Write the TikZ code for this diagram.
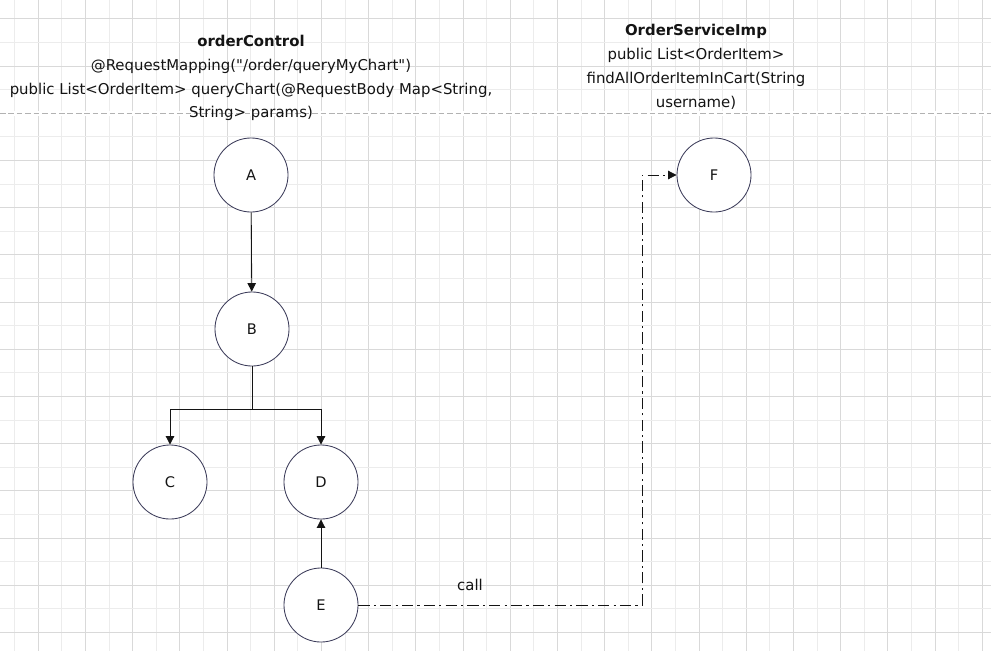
\documentclass[tikz,border=0pt]{standalone}
\usepackage{fontspec}
\newfontfamily\diagfont{DejaVu Sans}
\usetikzlibrary{arrows.meta, positioning}

\definecolor{gridlo}{HTML}{ECECEC}
\definecolor{gridhi}{HTML}{D9D9D9}
\definecolor{ringcol}{HTML}{3C3C5A}
\definecolor{inkcol}{HTML}{141414}

\tikzset{
  state/.style={circle, draw=ringcol, line width=0.6pt, fill=white,
    minimum size=1.85cm, inner sep=0pt, text=inkcol, font=\diagfont\fontsize{10.4}{12}\selectfont},
  arr/.style={-{Triangle[length=2.1mm, width=2.1mm]}, line width=0.6pt, inkcol},
  callarr/.style={arr, dash pattern=on 8pt off 3pt on 1.5pt off 3pt},
  caption/.style={align=center, text=inkcol, font=\diagfont\fontsize{10.6}{17}\selectfont}
}

\begin{document}
\begin{tikzpicture}[x=0.025cm, y=-0.025cm]
\useasboundingbox (0,0) rectangle (991,651);
\fill[white] (0,0) rectangle (991,651);
% grid
\foreach \k in {0,...,41}{
  \pgfmathsetmacro\gx{14.7+23.6*\k}
  \ifodd\k \def\gc{gridhi}\else \def\gc{gridlo}\fi
  \draw[\gc, line width=0.6pt] (\gx,0) -- (\gx,651);
}
\foreach \k in {0,...,27}{
  \pgfmathsetmacro\gy{18.9+23.6*\k}
  \ifodd\k \def\gc{gridlo}\else \def\gc{gridhi}\fi
  \draw[\gc, line width=0.6pt] (0,\gy) -- (991,\gy);
}
\fill[white] (0,111) rectangle (991,115.5);
\draw[gray!60, dash pattern=on 4pt off 2pt, line width=0.6pt] (0,113.3) -- (991,113.3);

\node[caption] (ctrl) at (251,78)
  {\textbf{orderControl}\\
   @RequestMapping("/order/queryMyChart")\\
   public List<OrderItem> queryChart(@RequestBody Map<String,\\
   String> params)};
\node[caption] (svc) at (696,67)
  {\textbf{OrderServiceImp}\\
   public List<OrderItem>\\
   findAllOrderItemInCart(String\\
   username)};

\node[state] (A) at (251,175) {A};
\node[state] (B) at (252,329) {B};
\node[state] (C) at (170,482) {C};
\node[state] (D) at (321,482) {D};
\node[state] (E) at (321,605) {E};
\node[state] (F) at (714,175) {F};

\coordinate (split) at (252,409);
\coordinate (turn) at (642,605);

\draw[arr] (A) -- (B);
\draw[line width=0.6pt, inkcol] (B) -- (split);
\draw[arr] (split) -| (C);
\draw[arr] (split) -| (D);
\draw[arr] (E) -- (D);
\draw[callarr] (E) -- (turn) |- (F);
\node[text=inkcol, font=\diagfont\fontsize{10.6}{12}\selectfont] (calltxt) at (470,585) {call};
\end{tikzpicture}
\end{document}
